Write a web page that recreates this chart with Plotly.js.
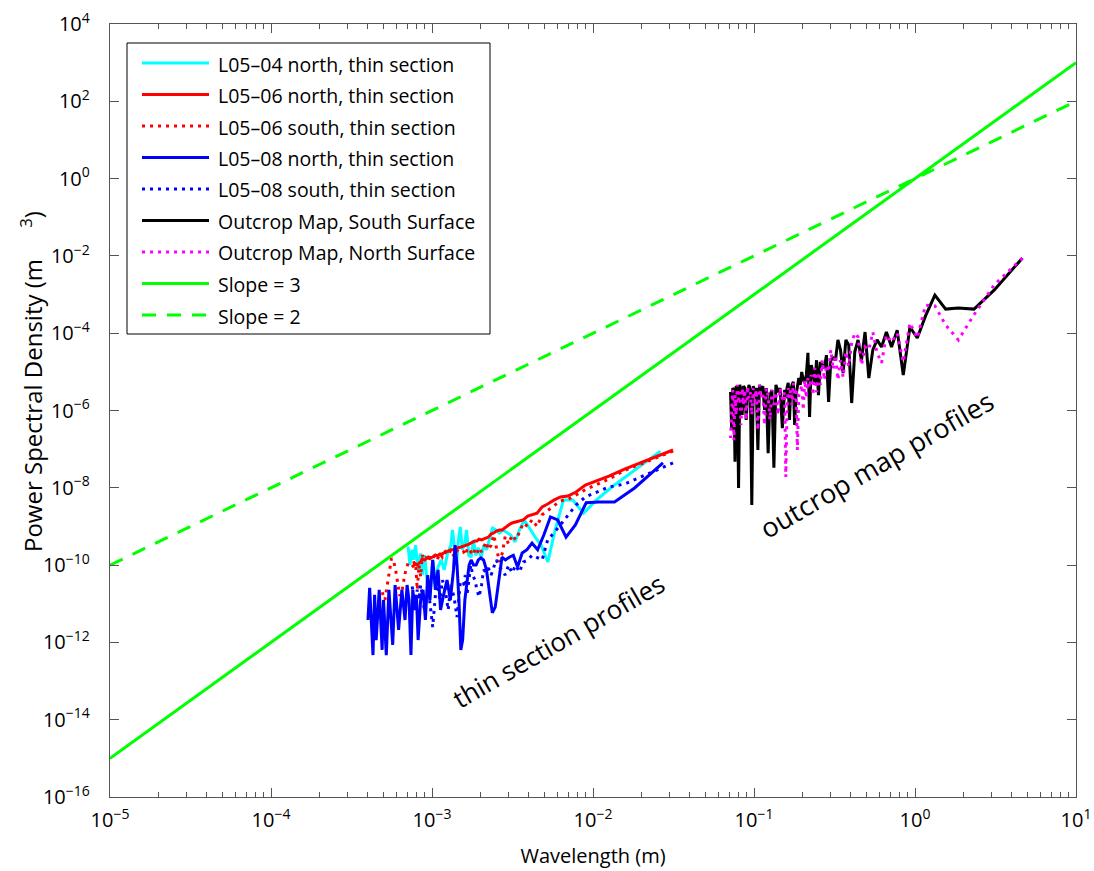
<!DOCTYPE html>
<html><head><meta charset="utf-8">
<script src="https://cdn.plot.ly/plotly-3.0.1.min.js"></script>
<style>html,body{margin:0;padding:0;background:#fff;}#chart{width:1094px;height:871px;}</style>
</head><body><div id="chart"></div>
<script>
// ---------------- DATA ----------------
// Thin-section wavelength grid (m)
const thinGridA = [0.0314,0.02093,0.0157,0.01256,0.01047,0.00897,0.00785,0.00698,0.00628,0.00571,0.00523,0.00483,0.00449,0.00419,0.00393,0.00369,0.00349,0.00331,0.00314,0.00299,0.00285,0.00273,0.00262,0.00251,0.00242,0.00233,0.00224,0.00217,0.00209,0.00203,0.00196,0.0019,0.00185,0.00179,0.00174,0.0017,0.00165,0.00161,0.00157,
0.0015,0.00143,0.00137,0.00131,0.00126,0.00121,0.00116,0.00112,0.00108,0.00105,0.00101,0.00098,0.00095,0.00092,0.0009,0.00087,0.00085,0.00083,0.00081,0.00079,
0.00075,0.00071,0.00068,0.00065,0.00063,0.0006,0.00058,0.00056,0.00054,0.00052,0.00051,0.00049,0.00048,0.00046,0.00045,0.00044,0.00042,0.00041,0.0004];

const l0504NorthWavelength = [0.0262,0.01747,0.0131,0.01048,0.00873,0.00749,0.00655,0.00582,0.00524,0.00476,0.00437,0.00403,0.00374,0.00349,0.00328,0.00308,0.00291,0.00276,0.00262,0.0025,0.00238,0.00228,0.00218,0.0021,0.00202,0.00194,0.00187,0.00181,0.00175,0.00169,0.00164,0.00159,0.00154,0.0015,0.00146,0.00142,0.00138,0.00134,0.00131,
0.00125,0.00119,0.00114,0.00109,0.00105,0.00101,0.00097,0.00094,0.0009,0.00087,0.00085,0.00082,0.00079,0.00077,0.00075,0.00073,0.00071];
const l0504NorthPsd = [8.9e-8,2.6e-8,1.05e-8,4.8e-9,2.2e-9,4.8e-9,4.8e-9,8.1e-10,1.2e-10,3.3e-10,5.3e-10,9.1e-10,1.47e-9,8.1e-10,4.0e-10,6.0e-10,7.2e-10,8.1e-10,6.8e-10,8.1e-10,9.1e-10,4.5e-10,2.5e-10,3.3e-10,1.6e-10,2.8e-10,1.8e-10,4.5e-10,1.6e-10,1.8e-10,8.1e-10,3.3e-10,2.5e-10,9.7e-10,4.5e-10,1.0e-10,3.3e-10,8.1e-10,3.3e-10,
2.0e-10,7.5e-11,1.36e-10,8.9e-11,3.4e-11,1.36e-10,1.25e-11,2.7e-11,1.8e-10,5.5e-11,2.0e-10,7.5e-11,3.3e-10,1.36e-10,2.5e-10,1.0e-10,3.0e-10];

const l0506NorthPsd = [9.5e-8,4.9e-8,3.06e-8,2.0e-8,1.5e-8,1.18e-8,7.8e-9,6.1e-9,5.8e-9,4.8e-9,3.8e-9,3.2e-9,2.2e-9,2.0e-9,1.86e-9,1.47e-9,1.38e-9,1.3e-9,1.23e-9,1.09e-9,9.1e-10,8.1e-10,8.1e-10,7.6e-10,6.8e-10,6.4e-10,5.3e-10,5.0e-10,4.7e-10,4.5e-10,4.7e-10,4.2e-10,4.2e-10,4.0e-10,3.7e-10,3.5e-10,3.3e-10,3.3e-10,3.1e-10,
2.9e-10,2.8e-10,2.5e-10,2.5e-10,2.3e-10,2.2e-10,1.94e-10,1.94e-10,1.72e-10,1.82e-10,1.62e-10,1.53e-10,1.62e-10,1.44e-10,1.36e-10,1.44e-10,1.2e-10,1.13e-10,1.0e-10,1.07e-10,
8.9e-11];

const l0506SouthPsd = [8.9e-8,4.5e-8,2.8e-8,1.69e-8,1.2e-8,9e-9,6.5e-9,5.0e-9,4.6e-9,3.4e-9,2.7e-9,2.0e-9,1.0e-9,1.5e-9,1.0e-9,1.23e-9,7e-10,4.5e-10,6e-10,3.5e-10,5.5e-10,2.0e-10,1.2e-10,3e-10,6e-10,3.3e-10,2.5e-10,4.0e-10,2.8e-10,2.2e-10,2.8e-10,2.0e-10,2.5e-10,1.8e-10,2.2e-10,2.0e-10,2.5e-10,1.8e-10,2.2e-10,
2.0e-10,2.4e-10,1.7e-10,2.5e-10,1.8e-10,2.2e-10,1.6e-10,2.0e-10,1.4e-10,1.8e-10,1.5e-10,1.7e-10,1.2e-10,1.6e-10,1.4e-10,1.8e-10,5e-11,1.0e-10,2.3e-11,1.2e-10,
1.1e-10,1.13e-10,6e-11,2.1e-11,1.6e-11,6e-11,1.2e-10,1.5e-10,6e-11,2.3e-11,1.25e-11,2e-11];

const l0508NorthWavelength = [0.0272,0.01813,0.0136,0.01088,0.00907,0.00777,0.0068,0.00604,0.00544,0.00495,0.00453,0.00418,0.00389,0.00363,0.0034,0.0032,0.00302,0.00286,0.00272,0.00259,0.00247,0.00237,0.00227,0.00218,0.00209,0.00201,0.00194,0.00188,0.00181,0.00175,0.0017,0.00165,0.0016,0.00155,0.00151,0.00147,0.00143,0.00139,0.00136,
0.0013,0.00124,0.00118,0.00113,0.00109,0.00105,0.00101,0.00097,0.00094,0.00091,0.00088,0.00085,0.00082,0.0008,0.00078,0.00076,0.00074,0.00072,0.0007,0.00068,
0.00065,0.00062,0.00059,0.00057,0.00054,0.00052,0.0005,0.00049,0.00047,0.00045,0.00044,0.00043,0.00041,0.0004];
const l0508NorthPsd = [4.4e-8,9.9e-9,4.3e-9,4.3e-9,4.1e-9,1.1e-9,5.3e-10,1.47e-9,1.76e-9,6.0e-10,2.5e-10,3.7e-10,2.5e-10,2.05e-10,8.9e-11,1.8e-10,1.6e-10,1.36e-10,1.6e-10,3.05e-11,8.2e-12,5.8e-12,2.3e-11,7.5e-11,1.36e-10,1.53e-10,1.36e-10,1.0e-10,1.0e-10,1.36e-10,1.0e-10,4.1e-11,1.25e-11,1.15e-12,6.4e-13,1.25e-11,1.0e-10,3.3e-10,7.5e-11,
1.25e-11,4.1e-11,1.68e-11,6.9e-12,7.5e-11,2.3e-11,1.36e-10,1.25e-11,5.5e-11,3.8e-12,2.3e-11,1.25e-11,1.15e-12,1.7e-11,6.9e-12,2.3e-11,4.7e-13,1.25e-11,3.05e-11,3.8e-12,
2.3e-11,2.1e-12,3.05e-11,8.6e-13,2.3e-11,4.7e-13,1.25e-11,6.4e-13,2.3e-11,1.15e-12,1.7e-11,4.7e-13,2.6e-11,3.8e-12];

const l0508SouthPsd = [4.4e-8,2.1e-8,1.25e-8,1.05e-8,7.8e-9,5.8e-9,3.6e-9,2.0e-9,1.1e-9,6.8e-10,4.5e-10,1.36e-10,1.6e-10,1.8e-10,1.36e-10,1.2e-10,6.6e-11,1.0e-10,6.3e-11,1.0e-10,5.5e-11,7.5e-11,8.9e-11,1.36e-10,8.9e-11,5.5e-11,8.4e-11,6.6e-11,7.5e-11,3.05e-11,1.5e-11,2.3e-11,4.1e-11,5.5e-11,1.0e-10,4.1e-11,1.7e-11,5.5e-11,3.05e-11,
3.6e-11,4.5e-12,1.5e-11,3.05e-11,6.9e-12,2.3e-11,4.1e-11,1.25e-11,3.05e-11,1.7e-11,2.5e-12,6.9e-12,2.3e-11,1.25e-11,6.1e-12,1.7e-11,3.05e-11,1.25e-11,2.3e-11,9.3e-12,
3.05e-11];

// Outcrop map wavelengths (m)
const outcropWavelength = [4.65,3.1,2.325,1.86,1.55,1.329,1.1625,1.033,0.93,0.8455,0.775,0.7154,0.6643,0.62,0.5813,0.5471,0.5167,0.4895,0.465,0.4429,0.4227,0.4043,0.3875,0.372,0.3577,0.3444,0.3321,0.3207,0.31,0.3,0.2906,0.2818,0.2735,0.2657,0.2583,0.2514,0.2447,0.2385,0.2325,0.2268,0.2214,0.2163,0.2114,0.2067,0.2022,0.1979,0.1938,0.1898,0.186,0.1824,0.1788,0.1755,0.1722,0.1691,0.1661,0.1632,0.1603,0.1576,0.155,
0.15,0.1453,0.1409,0.1368,0.1329,0.1292,0.1257,0.1224,0.1192,0.1163,0.1134,0.1107,0.1081,0.1057,0.1033,0.1011,0.0989,0.0969,0.0949,0.093,0.0912,0.0894,0.0877,0.0861,0.0845,0.083,0.0816,0.0802,0.0788,0.0775,0.0762,0.075,0.0738,0.0727,0.0715];
const outcropSouthPsd = [8.8e-3,1.3e-3,4.2e-4,4.5e-4,4.2e-4,9.7e-4,2.8e-4,7.5e-5,1.45e-4,8.3e-6,1.2e-4,4.4e-5,1.07e-4,4.4e-5,6.7e-5,3.7e-5,6.9e-6,1.07e-4,2.0e-5,6.7e-5,3.3e-5,1.56e-6,5.0e-5,6.7e-5,9.3e-6,3.7e-5,6.7e-5,2.0e-5,2.3e-5,2.0e-5,1.66e-6,2.7e-5,1.26e-5,1.5e-5,1.8e-5,2.5e-6,2.0e-5,4.6e-6,9.9e-6,1.5e-5,6.8e-7,3.1e-5,8.3e-6,5.2e-6,6.2e-6,9.9e-6,4.6e-6,6.9e-6,3.8e-6,2.5e-6,4.2e-7,5.5e-6,4.6e-6,3.4e-6,5.7e-7,5.2e-6,3.8e-6,2.1e-6,3.4e-6,
3.5e-7,3.8e-6,3.0e-6,4.6e-6,3.3e-8,3.4e-6,2.5e-6,7.9e-8,3.8e-6,1.03e-6,4.3e-6,3.0e-6,4.6e-6,9.5e-8,3.8e-6,3.0e-6,4.3e-6,3.6e-9,3.4e-6,4.6e-6,2.5e-6,5.7e-7,3.8e-6,4.3e-6,7.7e-7,3.4e-6,4.6e-6,9.9e-9,3.8e-6,4.3e-6,4.7e-8,3.4e-6,3.8e-6,3.1e-7,3.0e-6];
const outcropNorthPsd = [8.8e-3,1.77e-3,3.0e-4,6.7e-5,1.63e-4,5.1e-4,5.3e-4,7.5e-5,1.84e-4,1.8e-5,1.0e-4,5.9e-5,9.0e-5,1.7e-5,3.1e-5,1.07e-4,3.7e-5,4.4e-5,1.5e-5,8.0e-5,1.0e-4,5.6e-5,1.4e-5,3.3e-5,7.3e-6,2.0e-5,6.2e-6,2.7e-5,1.15e-5,3.7e-5,9.9e-6,1.5e-5,6.2e-6,2.0e-5,4.6e-6,9.9e-6,3.0e-6,1.26e-5,2.5e-6,8.3e-6,3.8e-6,6.9e-6,2.1e-6,6.2e-6,1.03e-6,4.6e-6,3.0e-6,2.5e-6,9.5e-8,3.8e-6,1.9e-6,5.2e-6,1.4e-6,3.4e-6,2.1e-6,3.8e-6,1.03e-6,1.9e-8,3.0e-6,
1.9e-6,3.8e-6,7.7e-7,3.0e-6,1.4e-6,3.4e-6,5.7e-7,2.5e-6,3.8e-6,4.2e-7,3.0e-6,2.1e-6,4.6e-6,3.1e-7,3.4e-6,1.66e-6,3.8e-6,7.7e-7,3.0e-6,2.1e-6,4.3e-6,5.7e-7,3.4e-6,1.4e-6,3.8e-6,4.2e-7,3.0e-6,1.9e-6,4.6e-6,7.7e-7,2.5e-6,1.7e-7,3.4e-6,1.03e-6,1.95e-7];

// Reference slope lines
const slopeWavelength = [1e-5, 10];
const slope3Psd = [1e-15, 1e3];
const slope2Psd = [1e-10, 1e2];

const seriesNames = ['L05\u201304 north, thin section','L05\u201306 north, thin section','L05\u201306 south, thin section','L05\u201308 north, thin section','L05\u201308 south, thin section','Outcrop Map, South Surface','Outcrop Map, North Surface','Slope = 3','Slope = 2'];
const annotationLabels = ['thin section profiles','outcrop map profiles'];
const xAxisTitle = 'Wavelength (m)';
const yAxisTitle = 'Power Spectral Density (m\u00A0\u00A0\u00A0\u00A0\u00A0<sup>3</sup>)';

// ---------------- STYLE ----------------
const FONT = 'Open Sans, Noto Sans, DejaVu Sans, sans-serif';
const DOT = '3px,5px';
const styles = [
  {color:'#00FFFF', dash:'solid'},
  {color:'#FF0000', dash:'solid'},
  {color:'#FF0000', dash:DOT},
  {color:'#0000FF', dash:'solid'},
  {color:'#0000FF', dash:DOT},
  {color:'#000000', dash:'solid'},
  {color:'#FF00FF', dash:DOT},
  {color:'#00FF00', dash:'solid'},
  {color:'#00FF00', dash:'14px,11px'}
];
const seriesData = [
  [l0504NorthWavelength, l0504NorthPsd],
  [thinGridA.slice(0, l0506NorthPsd.length), l0506NorthPsd],
  [thinGridA.slice(0, l0506SouthPsd.length), l0506SouthPsd],
  [l0508NorthWavelength, l0508NorthPsd],
  [thinGridA.slice(0, l0508SouthPsd.length), l0508SouthPsd],
  [outcropWavelength, outcropSouthPsd],
  [outcropWavelength, outcropNorthPsd],
  [slopeWavelength, slope3Psd],
  [slopeWavelength, slope2Psd]
];
const LW = 3;
const traces = seriesData.map((d, i) => ({
  type:'scatter', mode:'lines', x:d[0], y:d[1], name:seriesNames[i],
  line:{color:styles[i].color, dash:styles[i].dash, width:LW}, showlegend:false, hoverinfo:'skip'
}));

// ---------------- LAYOUT ----------------
const W = 1094, H = 871, M = {l:110, r:18, t:24, b:74};
const PW = W - M.l - M.r, PH = H - M.t - M.b;
const pxX = p => (p - M.l) / PW;
const pxY = p => (H - M.b - p) / PH;

const shapes = [{type:'rect', xref:'paper', yref:'paper', x0:pxX(127), x1:pxX(490), y0:pxY(334), y1:pxY(43),
  line:{color:'#000', width:1}, fillcolor:'#fff', layer:'above'}];
const annotations = [];
seriesNames.forEach((n, i) => {
  const yc = 63 + 31.5 * i;
  shapes.push({type:'line', xref:'paper', yref:'paper', x0:pxX(142), x1:pxX(209), y0:pxY(yc), y1:pxY(yc),
    line:{color:styles[i].color, width:LW, dash:styles[i].dash}, layer:'above'});
  annotations.push({xref:'paper', yref:'paper', x:pxX(216), y:pxY(yc + 1), xanchor:'left', yanchor:'middle',
    text:n, showarrow:false, font:{family:FONT, size:19.5, color:'#000'}});
});
annotations.push({xref:'paper', yref:'paper', x:pxX(558), y:pxY(641), xanchor:'center', yanchor:'middle',
  text:annotationLabels[0], textangle:-30, showarrow:false, font:{family:FONT, size:26, color:'#000'}});
annotations.push({xref:'paper', yref:'paper', x:pxX(876), y:pxY(464), xanchor:'center', yanchor:'middle',
  text:annotationLabels[1], textangle:-30, showarrow:false, font:{family:FONT, size:27, color:'#000'}});
// y-axis title (placed explicitly to follow the reference position)
annotations.push({xref:'paper', yref:'paper', x:pxX(32), y:pxY(382), xanchor:'center', yanchor:'middle',
  text:yAxisTitle, textangle:-90, showarrow:false, font:{family:FONT, size:24, color:'#000'}});

const AXC = '#555';
const layout = {
  width:W, height:H, margin:M, paper_bgcolor:'#fff', plot_bgcolor:'#fff', showlegend:false,
  font:{family:FONT, color:'#000'},
  xaxis:{type:'log', range:[-5,1], dtick:1, exponentformat:'power', showexponent:'all',
    labelalias:{'1':'10<sup>0</sup>','10':'10<sup>1</sup>'},
    showline:true, linecolor:AXC, linewidth:1, mirror:'ticks', ticks:'inside', ticklen:9, tickcolor:AXC,
    showgrid:false, zeroline:false, tickfont:{family:FONT, size:16, color:'#000'}, ticklabelstandoff:6,
    minor:{ticks:'inside', ticklen:5, tickcolor:AXC, dtick:'D1', showgrid:false},
    title:{text:xAxisTitle, font:{family:FONT, size:20, color:'#000'}, standoff:16}},
  yaxis:{type:'log', range:[-16,4], dtick:2, tick0:0, exponentformat:'power', showexponent:'all',
    labelalias:{'1':'10<sup>0</sup>'},
    showline:true, linecolor:AXC, linewidth:1, mirror:'ticks', ticks:'inside', ticklen:9, tickcolor:AXC,
    showgrid:false, zeroline:false, tickfont:{family:FONT, size:16, color:'#000'}, ticklabelstandoff:16},
  shapes:shapes, annotations:annotations
};

Plotly.newPlot('chart', traces, layout, {staticPlot:true, displayModeBar:false});
</script></body></html>
